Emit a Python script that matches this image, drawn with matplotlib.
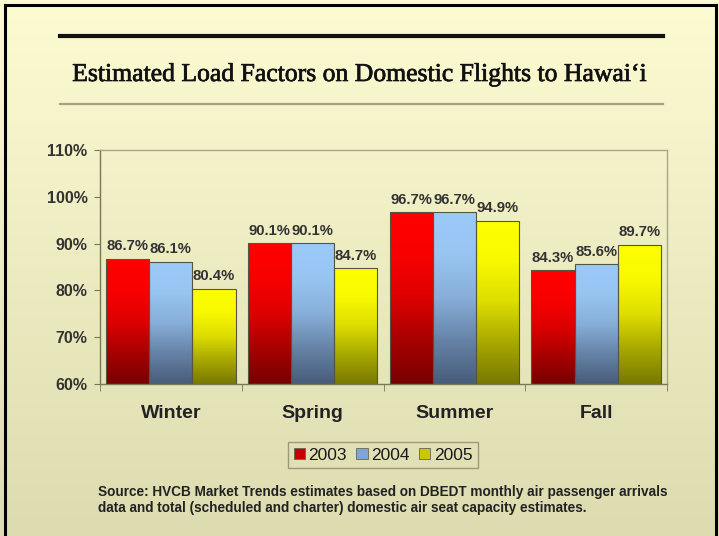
import numpy as np
import matplotlib
matplotlib.use("Agg")
import matplotlib.pyplot as plt
from matplotlib.colors import LinearSegmentedColormap, to_rgb
from matplotlib.patches import Rectangle
from matplotlib.lines import Line2D
import matplotlib.patheffects as pe

seasons = ["Winter", "Spring", "Summer", "Fall"]
years = ["2003", "2004", "2005"]
load_2003 = [86.7, 90.1, 96.7, 84.3]
load_2004 = [86.1, 90.1, 96.7, 85.6]
load_2005 = [80.4, 84.7, 94.9, 89.7]
y_ticks = [60, 70, 80, 90, 100, 110]

series = [load_2003, load_2004, load_2005]
top_colors = ["#ff0000", "#9ccaf8", "#ffff00"]
bottom_colors = ["#780000", "#485c7a", "#787800"]


def blend(c1, c2, t):
    a, b = np.array(to_rgb(c1)), np.array(to_rgb(c2))
    return tuple(a + (b - a) * t)


fig = plt.figure(figsize=(7.19, 5.36), dpi=100)

# cream background fading to khaki
bg = fig.add_axes([0, 0, 1, 1], zorder=-10)
grad = np.linspace(0, 1, 256).reshape(-1, 1)
bg_cmap = LinearSegmentedColormap.from_list("bg", ["#fdfbd2", "#dddcb0"])
bg.imshow(grad, aspect="auto", cmap=bg_cmap, extent=[0, 1, 0, 1], origin="upper")
bg.set_xlim(0, 1)
bg.set_ylim(0, 1)
bg.axis("off")

W, H = 719, 536


def fx(px):
    return px / W


def fy(py):
    return 1 - py / H


# outer frame (left, top, right)
fig.add_artist(Line2D([fx(5), fx(5)], [0, fy(5)], color="black", lw=2.2))
fig.add_artist(Line2D([fx(5), fx(716)], [fy(5), fy(5)], color="black", lw=2.2))
fig.add_artist(Line2D([fx(716), fx(716)], [fy(5), 0], color="black", lw=2.2))

# title rules and title
fig.add_artist(Line2D([fx(60), fx(663)], [fy(36), fy(36)], color="#111111", lw=3))
fig.add_artist(Line2D([fx(60), fx(663)], [fy(104), fy(104)], color="#a5a37e", lw=1.6))
fig.text(fx(360), fy(75), "Estimated Load Factors on Domestic Flights to Hawai\u2018i",
         ha="center", va="center", fontsize=18.5, family="Liberation Serif",
         color="#111111",
         path_effects=[pe.withStroke(linewidth=0.5, foreground="#111111")])

ax = fig.add_axes([fx(100), fy(384), fx(667) - fx(100), fy(150) - fy(384)])
ax.patch.set_alpha(0)

n_groups = len(seasons)
bar_w = 0.305
x = np.arange(n_groups)
offsets = [-bar_w, 0, bar_w]

for s, vals in enumerate(series):
    top, bot = top_colors[s], bottom_colors[s]
    cmap = LinearSegmentedColormap.from_list(
        f"c{s}", [(0.0, bot), (0.25, blend(bot, top, 0.35)),
                  (0.5, blend(bot, top, 0.75)), (0.75, blend(bot, top, 0.95)),
                  (1.0, top)])
    bars = ax.bar(x + offsets[s], vals, width=bar_w, bottom=0,
                  color="none", edgecolor="#555544", linewidth=0.8, zorder=3,
                  label=years[s])
    for b, v in zip(bars, vals):
        x0 = b.get_x()
        g = np.linspace(0, 1, 256).reshape(-1, 1)
        im = ax.imshow(g, cmap=cmap, aspect="auto", origin="lower",
                       extent=[x0, x0 + bar_w, 60, v], zorder=2,
                       interpolation="bilinear")
        im.set_clip_path(b)
        ax.annotate(f"{v:.1f}%", (x0 + bar_w / 2, v), xytext=(0, 4),
                    textcoords="offset points", ha="center", va="bottom",
                    fontsize=10.7, fontweight="bold", family="Liberation Sans",
                    color="#333333", zorder=5)

ax.set_xlim(-0.5, n_groups - 0.5)
ax.set_ylim(60, 110)
ax.set_yticks(y_ticks)
ax.set_yticklabels([f"{t}%" for t in y_ticks], fontsize=11.5, fontweight="bold",
                   family="Liberation Sans", color="#333333")
ax.set_xticks(np.arange(n_groups + 1) - 0.5, minor=True)
ax.set_xticks(x)
ax.set_xticklabels(seasons, fontsize=14, fontweight="bold",
                   family="Liberation Sans", color="#222222")
ax.tick_params(axis="x", which="major", length=0, pad=15)
ax.tick_params(axis="x", which="minor", length=5, color="#77775a", direction="out")
ax.tick_params(axis="y", length=4, color="#77775a", direction="out", pad=5)
for side in ["left", "bottom"]:
    ax.spines[side].set_color("#77775a")
    ax.spines[side].set_linewidth(1.0)
for side in ["top", "right"]:
    ax.spines[side].set_color("#a8a68a")
    ax.spines[side].set_linewidth(1.0)

# legend
handles = [Rectangle((0, 0), 1, 1, facecolor=c, edgecolor="#666655", lw=0.6)
           for c in ["#c80000", "#7fa6d6", "#c8c800"]]
leg = fig.legend(handles, years, loc="center", bbox_to_anchor=(fx(383), fy(455)),
                 ncol=3, frameon=True, fancybox=False,
                 handlelength=0.65, handleheight=0.65, handletextpad=0.2,
                 columnspacing=0.55, borderpad=0.3,
                 prop={"family": "Liberation Sans", "size": 12.5})
leg.get_frame().set_edgecolor("#8a8870")
leg.get_frame().set_facecolor("none")
leg.get_frame().set_linewidth(1.0)
for t in leg.get_texts():
    t.set_color("#1a1a1a")

fig.text(fx(98), fy(500),
         "Source: HVCB Market Trends estimates based on DBEDT monthly air passenger arrivals\n"
         "data and total (scheduled and charter) domestic air seat capacity estimates.",
         ha="left", va="center", fontsize=9.8, fontweight="bold",
         family="Liberation Sans", color="#222222", linespacing=1.2)

fig.savefig("out.png", dpi=100)
